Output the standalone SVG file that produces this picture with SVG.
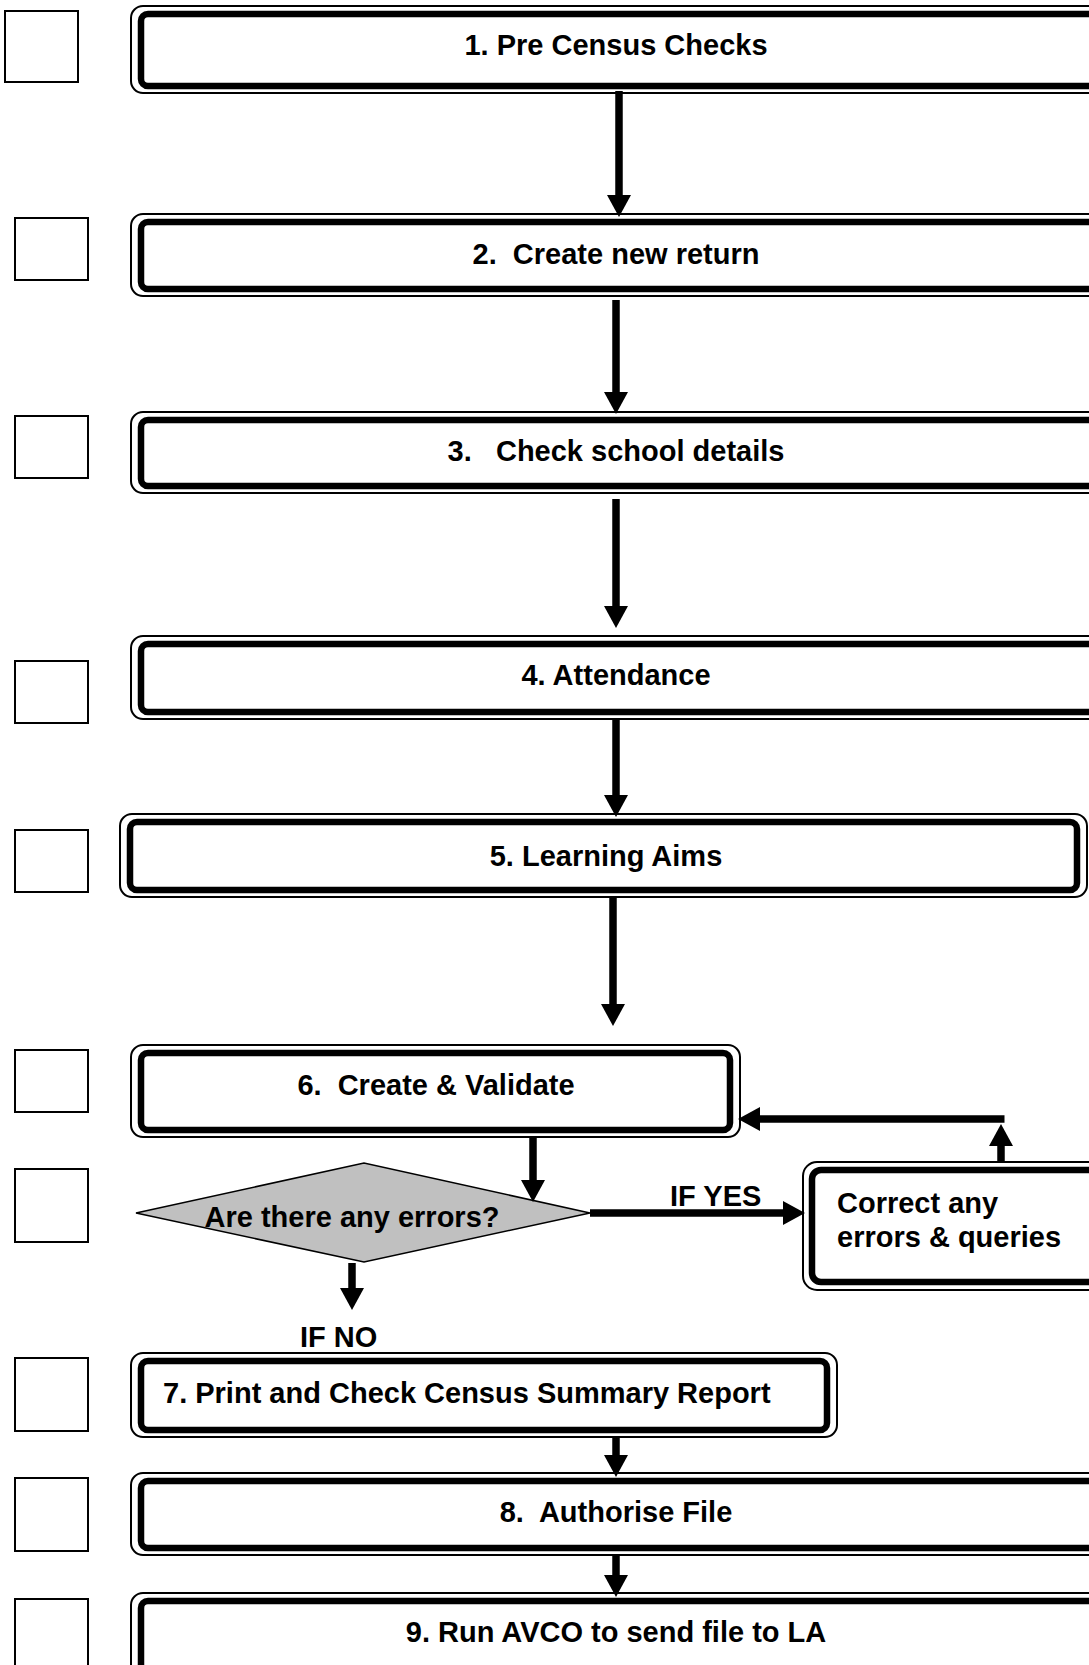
<svg xmlns="http://www.w3.org/2000/svg" width="1089" height="1665" viewBox="0 0 1089 1665">
<style>
.o{fill:none;stroke:#000;stroke-width:2}
.i{fill:#fff;stroke:#000;stroke-width:6.5}
.sq{fill:#fff;stroke:#000;stroke-width:2}
.t{font-family:"Liberation Sans",Arial,sans-serif;font-weight:bold;font-size:29px;fill:#000}
.c{text-anchor:middle}
.ln{fill:none;stroke:#000;stroke-width:7.5}
</style>
<defs>
<marker id="ah" markerUnits="userSpaceOnUse" markerWidth="24" markerHeight="26" refX="1" refY="12" orient="auto" viewBox="0 0 24 26">
<path d="M0,0 L22,12 L0,24 z" fill="#000"/>
</marker>
</defs>
<rect width="1089" height="1665" fill="#fff"/>
<g id="checkboxes">
<rect class="sq" x="5" y="11" width="73" height="71"/>
<rect class="sq" x="15" y="218" width="73" height="62"/>
<rect class="sq" x="15" y="416" width="73" height="62"/>
<rect class="sq" x="15" y="661" width="73" height="62"/>
<rect class="sq" x="15" y="830" width="73" height="62"/>
<rect class="sq" x="15" y="1050" width="73" height="62"/>
<rect class="sq" x="15" y="1169" width="73" height="73"/>
<rect class="sq" x="15" y="1358" width="73" height="73"/>
<rect class="sq" x="15" y="1478" width="73" height="73"/>
<rect class="sq" x="15" y="1599" width="73" height="100"/>
</g>
<g id="step1">
<rect class="o" x="131" y="6" width="980" height="87" rx="12"/>
<rect class="i" x="141" y="14" width="960" height="72" rx="7"/>
<text class="t c" x="616" y="55">1. Pre Census Checks</text>
</g>
<g id="step2">
<rect class="o" x="131" y="214" width="980" height="82" rx="12"/>
<rect class="i" x="141" y="222" width="960" height="67" rx="7"/>
<text class="t c" x="616" y="264" xml:space="preserve">2.  Create new return</text>
</g>
<g id="step3">
<rect class="o" x="131" y="412" width="980" height="81" rx="12"/>
<rect class="i" x="141" y="420" width="960" height="66" rx="7"/>
<text class="t c" x="616" y="461" xml:space="preserve">3.   Check school details</text>
</g>
<g id="step4">
<rect class="o" x="131" y="636" width="980" height="83" rx="12"/>
<rect class="i" x="141" y="644" width="960" height="68" rx="7"/>
<text class="t c" x="616" y="685">4. Attendance</text>
</g>
<g id="step5">
<rect class="o" x="120" y="814" width="967" height="83" rx="12"/>
<rect class="i" x="130" y="822" width="947" height="68" rx="7"/>
<text class="t c" x="606" y="866">5. Learning Aims</text>
</g>
<g id="step6">
<rect class="o" x="131" y="1045" width="609" height="92" rx="12"/>
<rect class="i" x="141" y="1053" width="589" height="77" rx="7"/>
<text class="t c" x="436" y="1095" xml:space="preserve">6.  Create &amp; Validate</text>
</g>
<g id="decision">
<polygon points="136,1213 364,1163 590,1213 364,1262" fill="#c0c0c0" stroke="#000" stroke-width="1.5"/>
<text class="t c" x="352" y="1227">Are there any errors?</text>
</g>
<g id="correct">
<rect class="o" x="803" y="1162" width="300" height="128" rx="14"/>
<rect class="i" x="812" y="1170" width="290" height="112" rx="9"/>
<text class="t" x="837" y="1213">Correct any</text>
<text class="t" x="837" y="1247">errors &amp; queries</text>
</g>
<g id="step7">
<rect class="o" x="131" y="1353" width="706" height="84" rx="12"/>
<rect class="i" x="141" y="1361" width="686" height="69" rx="7"/>
<text class="t" x="163" y="1403">7. Print and Check Census Summary Report</text>
</g>
<g id="step8">
<rect class="o" x="131" y="1473" width="980" height="82" rx="12"/>
<rect class="i" x="141" y="1481" width="960" height="67" rx="7"/>
<text class="t c" x="616" y="1522" xml:space="preserve">8.  Authorise File</text>
</g>
<g id="step9">
<rect class="o" x="131" y="1593" width="980" height="120" rx="12"/>
<rect class="i" x="141" y="1601" width="960" height="105" rx="7"/>
<text class="t c" x="616" y="1642">9. Run AVCO to send file to LA</text>
</g>
<g id="connectors">
<line class="ln" x1="619" y1="91" x2="619" y2="196" marker-end="url(#ah)"/>
<line class="ln" x1="616" y1="300" x2="616" y2="393" marker-end="url(#ah)"/>
<line class="ln" x1="616" y1="499" x2="616" y2="607" marker-end="url(#ah)"/>
<line class="ln" x1="616" y1="719" x2="616" y2="796" marker-end="url(#ah)"/>
<line class="ln" x1="613" y1="897" x2="613" y2="1005" marker-end="url(#ah)"/>
<line class="ln" x1="533" y1="1137" x2="533" y2="1181" marker-end="url(#ah)"/>
<line class="ln" x1="590" y1="1213" x2="784" y2="1213" marker-end="url(#ah)"/>
<line class="ln" x1="1001" y1="1162" x2="1001" y2="1145" marker-end="url(#ah)"/>
<line class="ln" x1="1004.5" y1="1119" x2="759" y2="1119" marker-end="url(#ah)"/>
<line class="ln" x1="352" y1="1263" x2="352" y2="1289" marker-end="url(#ah)"/>
<line class="ln" x1="616" y1="1437" x2="616" y2="1456" marker-end="url(#ah)"/>
<line class="ln" x1="616" y1="1555" x2="616" y2="1576" marker-end="url(#ah)"/>
<text class="t" x="670" y="1206">IF YES</text>
<text class="t" x="300" y="1347">IF NO</text>
</g>
</svg>
